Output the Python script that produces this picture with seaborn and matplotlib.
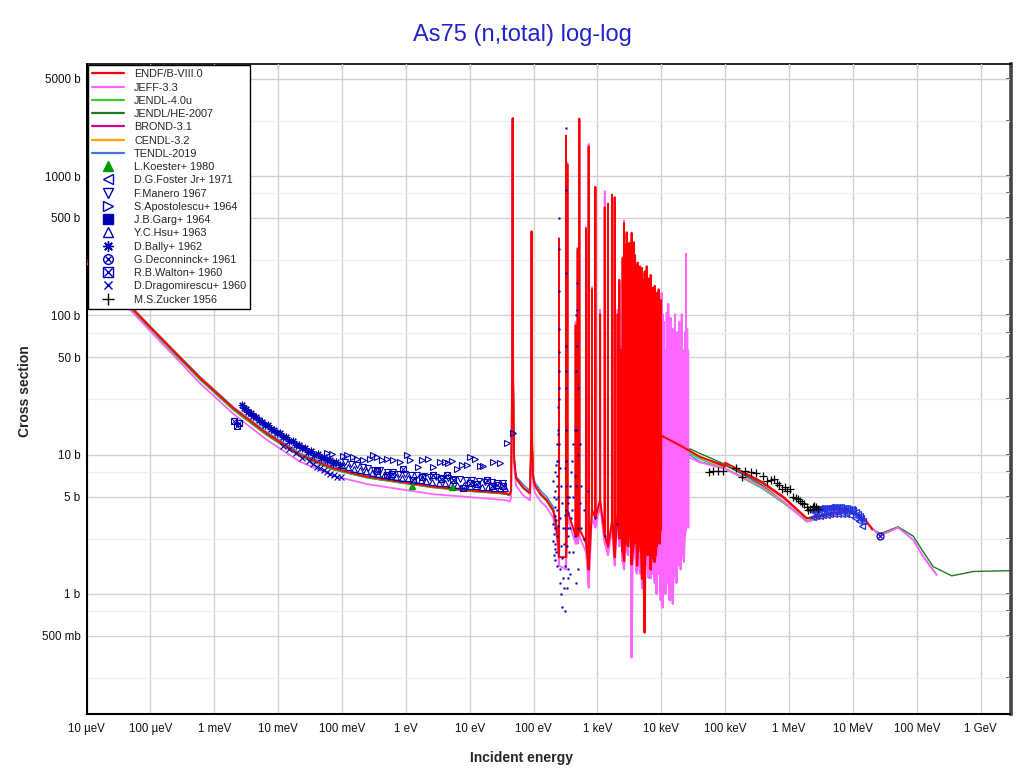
import numpy as np
import pandas as pd
import matplotlib
matplotlib.use("Agg")
import matplotlib.pyplot as plt
import seaborn as sns
from matplotlib.lines import Line2D
from matplotlib.legend_handler import HandlerTuple
from matplotlib.ticker import FixedLocator, FixedFormatter, NullFormatter, NullLocator

sns.set_style("white")
plt.rcParams["font.family"] = ["Liberation Sans", "DejaVu Sans"]
plt.rcParams["path.simplify"] = False

# ---------------- evaluated libraries (E in eV, sigma in barn) ----------------
low_E = [1e-5, 3e-5, 1e-4, 3e-4, 6e-4, 2e-3, 6.6e-3, 0.022, 0.073, 0.244, 0.81, 2.7, 9.0, 30, 38, 42,
         44.5, 46.2, 47.0, 47.8, 49.5, 53, 69, 88, 91.8, 93, 94.3, 98, 105, 130, 160, 204, 230, 245]
endf_low = [250, 146, 82, 49, 35.5, 21.5, 14.2, 9.95, 7.98, 6.95, 6.4, 5.89, 5.57, 5.33, 5.25, 5.15,
            5.5, 40, 2600, 40, 9.5, 6.8, 5.8, 5.3, 14, 400, 14, 7.0, 6.0, 5.2, 4.73, 3.96, 2.94, 2.2]
jeff_low = [238, 138, 77, 45.5, 32.5, 19.6, 12.8, 8.9, 7.05, 6.15, 5.65, 5.2, 4.98, 4.75, 4.7, 4.6,
            4.9, 36, 2500, 36, 8.5, 6.0, 5.1, 4.7, 12, 380, 12, 6.2, 5.3, 4.6, 4.2, 3.5, 2.6, 1.95]
jendl4_low = [246, 143, 80, 48, 34.8, 21.0, 13.9, 9.75, 7.85, 6.85, 6.3, 5.82, 5.5, 5.28, 5.2, 5.1,
              5.45, 40, 2600, 40, 9.4, 6.7, 5.75, 5.25, 14, 400, 14, 7.0, 5.95, 5.15, 4.7, 3.9, 2.9, 2.2]
jendlhe_low = [244, 142, 79.5, 47.6, 34.5, 20.9, 13.8, 9.7, 7.8, 6.82, 6.28, 5.8, 5.48, 5.26, 5.18, 5.08,
               5.43, 40, 2600, 40, 9.3, 6.7, 5.72, 5.22, 14, 400, 14, 6.9, 5.9, 5.1, 4.65, 3.88, 2.88, 2.18]
brond_low = [250, 146, 82, 49, 35.5, 21.5, 14.2, 9.95, 7.98, 6.95, 6.4, 5.89, 5.57, 5.33, 5.25, 5.15,
             5.5, 40, 2600, 40, 9.5, 6.8, 5.8, 5.3, 14, 400, 14, 7.0, 6.0, 5.2, 4.73, 3.96, 2.94, 2.2]
cendl_low = [252, 147, 83, 49.5, 35.8, 21.7, 14.3, 10.0, 8.0, 6.97, 6.42, 5.9, 5.58, 5.34, 5.26, 5.16,
             5.5, 40, 2600, 40, 9.5, 6.8, 5.8, 5.3, 14, 400, 14, 7.0, 6.0, 5.2, 4.75, 3.98, 2.96, 2.2]
tendl_low = [252, 148, 83.5, 50, 36.3, 22.0, 14.6, 10.25, 8.2, 7.12, 6.52, 5.98, 5.64, 5.38, 5.3, 5.2,
             5.55, 40, 2600, 40, 9.6, 7.0, 6.1, 5.5, 14, 400, 14, 7.3, 6.3, 5.5, 5.0, 4.2, 3.1, 2.3]

# resolved resonances (energy, peak, valley)
res_E = [250, 322, 338, 456, 490, 520, 662, 728, 822, 927, 1100, 1300, 1460, 1690, 1860, 2070, 2200,
         2340, 2480, 2610, 2740, 2870, 3010, 3160, 3300, 3430, 3580, 3740, 3880, 4020, 4170, 4320,
         4480, 4640, 4810, 4980, 5200, 5480, 5680, 5900, 6120, 6340, 6570, 6810, 7060, 7320, 7590,
         7870, 8150, 8450, 8760, 9080, 9420, 9770]
endf_peak = [356, 1945, 1213, 85, 303, 2585, 420, 1630, 154, 837, 102, 597, 634, 735, 705, 102, 180,
             56, 260, 458, 320, 395, 250, 331, 290, 391, 210, 335, 270, 232, 190, 239, 200, 225, 170,
             219, 180, 207, 160, 225, 170, 184, 150, 195, 140, 158, 135, 163, 130, 145, 120, 154, 115, 129]
endf_dip = [1.84, 1.84, 3.96, 2.62, 2.62, 2.94, 2.33, 1.5, 4.0, 3.52, 4.73, 2.62, 2.19, 3.32, 1.84,
            3.96, 2.5, 2.94, 2.0, 1.73, 2.8, 2.3, 2.2, 3.96, 2.6, 1.63, 2.0, 2.3, 2.4, 2.94, 1.6, 2.0,
            2.4, 2.94, 2.0, 1.29, 1.8, 0.53, 2.4, 2.2, 1.9, 2.94, 2.3, 1.5, 1.8, 2.6, 2.2, 1.7, 1.9,
            2.2, 2.4, 2.6, 2.3, 2.9]
jeff_peak = [340, 1900, 1250, 90, 290, 2500, 430, 1700, 160, 800, 110, 780, 620, 720, 690, 110, 170,
             60, 250, 480, 300, 380, 240, 320, 280, 380, 200, 320, 260, 240, 180, 230, 190, 215, 160,
             210, 175, 200, 150, 215, 165, 175, 145, 185, 135, 150, 130, 155, 125, 140, 118, 150, 112, 125]
jeff_dip = [1.6, 1.5, 3.5, 2.3, 2.3, 2.6, 2.0, 1.11, 3.5, 3.0, 4.2, 2.3, 1.9, 2.9, 1.6, 3.5, 2.2,
            2.6, 1.7, 1.5, 2.4, 2.0, 1.9, 3.5, 2.2, 0.35, 1.7, 2.0, 2.0, 1.45, 1.4, 1.7, 2.0, 1.4,
            1.7, 1.1, 1.5, 0.6, 2.0, 1.9, 1.6, 1.3, 2.0, 1.3, 1.5, 1.4, 1.9, 1.2, 1.6, 1.0, 1.9, 1.4,
            2.0, 0.9]
jeff_hi_E = [10100, 10500, 11000, 11600, 12100, 12900, 13500, 14000, 14500, 15100, 15800, 16400,
             17200, 17800, 18500, 19100, 20100, 20800, 21600, 22600, 23500, 24300, 25500, 26400]
jeff_hi_peak = [145, 102, 90, 56, 105, 121, 63, 96, 56, 80, 50, 102, 60, 76, 50, 90, 63, 102, 56, 56,
                76, 277, 80, 56]
jeff_hi_dip = [1.4, 0.8, 1.6, 1.0, 1.8, 1.2, 0.9, 1.6, 1.1, 0.85, 1.8, 1.4, 1.2, 1.9, 1.6, 2.1, 1.5,
               2.3, 2.0, 1.7, 2.6, 2.9, 3.2, 3.0]

# fast-neutron region
endf_fast_E = [1.0e4, 2.0e4, 4.04e4, 9.96e4, 1.0e5, 3.72e5, 8.13e5, 1.89e6, 2.72e6, 6.27e6, 8.0e6,
               1.15e7, 1.64e7, 1.97e7, 2.0e7]
endf_fast = [13.7, 11.6, 9.66, 8.2, 8.76, 6.4, 4.99, 3.5, 3.59, 3.89, 3.94, 3.79, 3.3, 2.96, 2.9]
fast_E = [1.0e4, 2.0e4, 4.04e4, 1.0e5, 3.72e5, 8.13e5, 1.89e6, 2.72e6, 6.27e6, 8.0e6, 1.15e7, 1.64e7, 2.0e7]
jendl4_fast = [13.4, 11.2, 9.3, 7.9, 5.75, 4.5, 3.35, 3.48, 3.85, 3.9, 3.76, 3.28, 2.9]
cendl_fast = [13.6, 11.5, 9.6, 8.35, 6.2, 4.85, 3.45, 3.55, 3.88, 3.93, 3.78, 3.29, 2.92]
brond_fast = [13.6, 11.5, 9.6, 8.4, 6.3, 4.9, 3.48, 3.57, 3.88, 3.93, 3.78, 3.3, 2.93]
he_E = [1.0e4, 2.0e4, 4.04e4, 1.0e5, 3.72e5, 8.13e5, 1.89e6, 2.72e6, 6.27e6, 8.0e6, 1.15e7, 1.64e7,
        2.0e7, 2.65e7, 5.1e7, 8.8e7, 1.26e8, 1.81e8, 3.52e8, 7.67e8, 2.9e9]
jendlhe_fast = [13.8, 11.8, 10.2, 8.5, 6.06, 4.6, 3.35, 3.48, 3.85, 3.9, 3.75, 3.25, 2.95, 2.7, 3.04,
                2.6, 2.01, 1.57, 1.35, 1.45, 1.47]
jeff_fast_E = [2.65e4, 4.04e4, 1.0e5, 3.72e5, 8.13e5, 1.89e6, 2.72e6, 6.27e6, 8.0e6, 1.15e7, 1.64e7,
               2.0e7, 2.65e7, 5.1e7, 8.8e7, 1.26e8, 2.04e8]
jeff_fast = [9.6, 8.8, 7.9, 5.9, 4.6, 3.3, 3.42, 3.8, 3.85, 3.7, 3.22, 2.95, 2.62, 3.0, 2.44, 1.85, 1.37]
tendl_fast_E = [1.0e4, 2.0e4, 4.04e4, 1.0e5, 3.72e5, 8.13e5, 1.89e6, 2.72e6, 6.27e6, 8.0e6, 1.15e7,
                1.64e7, 2.0e7, 2.65e7, 5.1e7, 8.8e7, 1.26e8, 2.04e8]
tendl_fast = [13.2, 11.0, 8.9, 7.95, 5.95, 4.62, 3.32, 3.43, 3.8, 3.86, 3.71, 3.23, 2.96, 2.63, 3.0,
              2.45, 1.86, 1.38]

# ---------------- experimental data ----------------
koester_E = [1.26, 5.2]
koester_s = [5.96, 5.83]
walton_E = [2.06e-3, 2.3e-3, 2.45e-3, 0.35, 0.5, 0.6, 0.91, 1.31, 1.8, 2.69, 3.5, 4.36, 5.5, 7.9, 10,
            13, 18.8, 22, 27, 33]
walton_s = [17.4, 16.0, 17.0, 7.6, 7.2, 7.3, 7.85, 6.58, 6.9, 7.15, 6.7, 7.15, 6.58, 5.74, 6.3, 6.2,
            6.58, 5.96, 6.1, 6.0]
apost_E = [0.0575, 0.069, 0.105, 0.118, 0.151, 0.170, 0.216, 0.275, 0.310, 0.349, 0.418, 0.50, 0.637,
           0.81, 1.03, 1.16, 1.57, 1.77, 2.25, 2.69, 3.43, 4.10, 4.62, 5.21, 6.25, 7.48, 8.96, 10.1,
           12.1, 14.5, 16.3, 23.4, 29.8, 37.8, 48.2]
apost_s = [10.2, 10.1, 9.78, 9.89, 9.57, 9.36, 9.16, 9.26, 9.95, 9.57, 9.16, 9.26, 9.16, 8.91, 9.95,
           9.16, 8.11, 9.16, 9.26, 8.11, 8.91, 8.91, 8.67, 9.06, 7.85, 8.43, 8.43, 9.68, 9.26, 8.30,
           8.30, 8.91, 8.75, 12.2, 14.2]
bally_E = [2.7e-3, 2.9e-3, 3.1e-3, 3.4e-3, 3.7e-3, 4.1e-3, 4.5e-3, 5.0e-3, 5.6e-3, 6.2e-3, 6.9e-3,
           7.7e-3, 8.6e-3, 9.6e-3, 0.0107, 0.012, 0.0134, 0.015, 0.0168, 0.0188, 0.021, 0.0235,
           0.0263, 0.0295, 0.033, 0.037, 0.0415, 0.0465, 0.052, 0.058, 0.065, 0.073, 0.082, 0.092]
bally_s = [22.8, 21.5, 21.2, 20.3, 19.8, 19.0, 18.5, 17.6, 17.3, 16.4, 16.2, 15.3, 15.1, 14.3, 14.2,
           13.4, 13.3, 12.6, 12.5, 11.8, 11.8, 11.1, 11.2, 10.5, 10.6, 9.9, 10.1, 9.5, 9.6, 9.1, 9.2,
           8.7, 8.8, 8.4]
hsu_E = [0.1, 0.125, 0.155, 0.19, 0.235, 0.29, 0.36, 0.45, 0.56, 0.7, 0.87, 1.08, 1.35, 1.7, 2.1,
         2.6, 3.3, 4.1, 5.1, 6.4, 8.0, 10, 12.5, 15.6, 19.5, 24, 30, 36]
hsu_s = [8.4, 8.1, 7.9, 7.7, 7.6, 7.4, 7.3, 7.1, 7.0, 6.95, 6.8, 6.75, 6.6, 6.55, 6.45, 6.4, 6.3,
         6.25, 6.2, 6.1, 6.05, 6.0, 5.95, 5.9, 5.85, 5.8, 5.8, 5.75]
manero_E = [0.11, 0.14, 0.17, 0.21, 0.26, 0.32, 0.4, 0.5, 0.62, 0.78, 0.97, 1.2, 1.5, 1.9, 2.35,
            2.95, 3.7, 4.6, 5.7, 7.1, 8.9, 11, 14, 17.5, 22, 27, 33]
manero_s = [8.9, 8.6, 8.4, 8.1, 8.0, 7.8, 7.7, 7.5, 7.5, 7.3, 7.3, 7.15, 7.1, 7.0, 6.95, 6.9, 6.8,
            6.8, 6.7, 6.65, 6.6, 6.55, 6.5, 6.4, 6.4, 6.3, 6.3]
drag_E = [0.012, 0.015, 0.019, 0.024, 0.03, 0.035, 0.04, 0.046, 0.052, 0.058, 0.066, 0.075, 0.083, 0.095]
drag_s = [11.6, 11.0, 10.2, 9.5, 9.0, 8.6, 8.2, 8.0, 7.7, 7.5, 7.3, 7.1, 6.95, 6.9]
garg_points = {204: [6.5, 3.2, 2.4], 210: [5.0, 2.7, 1.9], 215: [4.2, 3.6, 2.1, 1.75],
               220: [7.5, 5.5, 3.0, 2.3], 225: [8.5, 4.8, 3.4, 2.0], 230: [9.0, 6.0, 2.6, 1.6],
               235: [12, 7, 4.0], 240: [15, 9, 3.1], 245: [22, 14, 5], 248: [40, 25],
               250: [500, 300, 150, 80, 55], 253: [30, 12], 258: [8, 3.5, 1.5, 1.2],
               265: [6, 2.2, 1.0], 275: [4.5, 1.8, 0.8], 285: [3.0, 1.3], 295: [2.3, 1.1],
               305: [3.0, 1.6, 0.75], 312: [8, 3.7], 318: [30, 15, 6], 322: [2200, 800, 200, 60],
               326: [40, 9, 4], 332: [5, 2.2, 1.1], 340: [4.5, 3.0, 1.5], 350: [3.8, 2.6, 1.3],
               360: [5, 2.0], 375: [6, 3.0, 1.4], 390: [7.5, 3.5], 400: [9, 4], 420: [12, 5, 2.0],
               440: [15, 7, 2.6], 460: [100, 40, 6, 1.2], 480: [170, 110, 60, 15],
               500: [30, 10, 3, 1.5], 530: [12, 4.5], 560: [6, 3], 620: [4, 2.5], 700: [5.5],
               900: [3.5], 1300: [2.6], 2000: [3.2]}
foster_E = [2.3e6, 2.45e6, 2.6e6, 2.75e6, 2.9e6, 3.1e6, 3.3e6, 3.5e6, 3.75e6, 4.0e6, 4.3e6, 4.6e6,
            4.95e6, 5.3e6, 5.7e6, 6.1e6, 6.6e6, 7.1e6, 7.6e6, 8.2e6, 8.8e6, 9.5e6, 10.2e6, 11.0e6,
            11.8e6, 12.7e6, 13.6e6, 14.6e6,
            2.38e6, 2.68e6, 3.0e6, 3.4e6, 3.9e6, 4.45e6, 5.1e6, 5.9e6, 6.8e6, 7.9e6, 9.1e6, 10.6e6,
            12.3e6, 14.1e6,
            2.5e6, 3.2e6, 4.1e6, 5.5e6, 7.3e6, 9.8e6, 12.0e6]
foster_s = [3.98, 4.02, 4.05, 4.08, 4.1, 4.12, 4.14, 4.15, 4.16, 4.17, 4.18, 4.19, 4.2, 4.2, 4.19,
            4.19, 4.18, 4.17, 4.16, 4.14, 4.1, 4.05, 3.98, 3.88, 3.78, 3.64, 3.5, 3.34,
            3.58, 3.6, 3.64, 3.68, 3.7, 3.72, 3.74, 3.75, 3.75, 3.73, 3.68, 3.52, 3.33, 3.1,
            3.85, 3.92, 3.95, 3.97, 3.95, 3.88, 3.55]
decon_E = [2.68e7]
decon_s = [2.6]
zucker_E = [5.5e4, 6.5e4, 7.8e4, 9.1e4, 1.48e5, 1.81e5, 2.04e5, 2.51e5, 3.03e5, 3.95e5, 4.56e5,
            5.15e5, 5.8e5, 6.4e5, 7.03e5, 7.67e5, 8.64e5, 9.38e5, 1.03e6, 1.16e6, 1.28e6, 1.39e6,
            1.58e6, 1.71e6, 1.89e6, 2.13e6, 2.34e6, 2.64e6, 2.87e6, 1.5e6, 2.0e6, 2.5e6]
zucker_s = [7.5, 7.67, 7.63, 7.63, 8.07, 6.95, 7.67, 7.55, 7.43, 7.07, 6.5, 6.58, 6.66, 6.3, 6.06,
            5.64, 5.83, 5.51, 5.64, 4.99, 4.86, 4.78, 4.52, 4.43, 4.23, 4.1, 4.19, 4.19, 4.05, 4.65,
            4.0, 4.3]

x_ticks = [1e-5, 1e-4, 1e-3, 1e-2, 1e-1, 1, 10, 100, 1e3, 1e4, 1e5, 1e6, 1e7, 1e8, 1e9]
x_labels = ["10 µeV", "100 µeV", "1 meV", "10 meV", "100 meV", "1 eV", "10 eV", "100 eV", "1 keV",
            "10 keV", "100 keV", "1 MeV", "10 MeV", "100 MeV", "1 GeV"]
y_ticks = [0.5, 1, 5, 10, 50, 100, 500, 1000, 5000]
y_labels = ["500 mb", "1 b", "5 b", "10 b", "50 b", "100 b", "500 b", "1000 b", "5000 b"]
y_minor = [0.25, 0.75, 2.5, 7.5, 25, 75, 250, 750, 2500]

lib_names = ["ENDF/B-VIII.0", "JEFF-3.3", "JENDL-4.0u", "JENDL/HE-2007", "BROND-3.1", "CENDL-3.2", "TENDL-2019"]
lib_colors = ["#ff0000", "#ff66ff", "#33cc33", "#1f7a1f", "#cc0099", "#ffa500", "#4477dd"]
BLUE = "#0000b4"


def resonance_path(E, peak, dip):
    xs, ys = [], []
    for e, p, d in zip(E, peak, dip):
        xs += [e * 0.996, e, e * 1.004]
        ys += [d, p, d]
    return xs, ys


# ---------------- figure ----------------
fig = plt.figure(figsize=(10.2, 7.74), dpi=100)
ax = fig.add_axes([86.5 / 1020, 1 - 713.5 / 774, 924 / 1020, 649.2 / 774])
ax.set_xscale("log")
ax.set_yscale("log")


def line(E, s, color, lw, z):
    df = pd.DataFrame({"E": E, "s": s})
    sns.lineplot(data=df, x="E", y="s", ax=ax, color=color, linewidth=lw, sort=False,
                 estimator=None, legend=False, zorder=z)


# background libraries
line(low_E, tendl_low, lib_colors[6], 1.0, 2.1)
line(tendl_fast_E, tendl_fast, lib_colors[6], 1.0, 2.1)
line(low_E, cendl_low, lib_colors[5], 1.0, 2.2)
line(fast_E, cendl_fast, lib_colors[5], 1.0, 2.2)
line(low_E, brond_low, lib_colors[4], 1.0, 2.3)
line(fast_E, brond_fast, lib_colors[4], 1.0, 2.3)
line(low_E, jendlhe_low, lib_colors[3], 1.0, 2.4)
line(he_E, jendlhe_fast, lib_colors[3], 1.0, 2.4)
line(low_E, jendl4_low, lib_colors[2], 1.0, 2.5)
line(fast_E, jendl4_fast, lib_colors[2], 1.0, 2.5)

# JEFF-3.3
jx1, jy1 = resonance_path(res_E, jeff_peak, jeff_dip)
jx2, jy2 = resonance_path(jeff_hi_E, jeff_hi_peak, jeff_hi_dip)
line(low_E + jx1 + jx2 + jeff_fast_E, jeff_low + jy1 + jy2 + jeff_fast, lib_colors[1], 1.3, 2.7)

# ENDF/B-VIII.0
ex, ey = resonance_path(res_E, endf_peak, endf_dip)
line(low_E + ex + endf_fast_E, endf_low + ey + endf_fast, lib_colors[0], 1.4, 2.8)

# experimental data
garg_E = [e for e, vals in garg_points.items() for _ in vals]
garg_s = [v for vals in garg_points.values() for v in vals]
ax.plot(garg_E, garg_s, ls="none", marker="s", ms=1.1, mfc=BLUE, mec=BLUE, mew=0.3, zorder=3)
ax.plot(walton_E, walton_s, ls="none", marker="s", ms=4.5, mfc="none", mec=BLUE, mew=0.8, zorder=3)
ax.plot(walton_E, walton_s, ls="none", marker="x", ms=4.0, mec=BLUE, mew=0.7, zorder=3)
ax.plot(bally_E, bally_s, ls="none", marker=(8, 2, 0), ms=5.5, mec=BLUE, mew=0.8, zorder=3)
ax.plot(drag_E, drag_s, ls="none", marker="x", ms=4.0, mec=BLUE, mew=0.8, zorder=3)
ax.plot(hsu_E, hsu_s, ls="none", marker="^", ms=4.5, mfc="none", mec=BLUE, mew=0.8, zorder=3)
ax.plot(manero_E, manero_s, ls="none", marker="v", ms=4.5, mfc="none", mec=BLUE, mew=0.8, zorder=3)
ax.plot(apost_E, apost_s, ls="none", marker=">", ms=4.5, mfc="none", mec=BLUE, mew=0.8, zorder=3)
ax.plot(koester_E, koester_s, ls="none", marker="^", ms=5, mfc="#009900", mec="#009900", zorder=3.5)
ax.plot(foster_E, foster_s, ls="none", marker="<", ms=4.5, mfc="none", mec="#2233e0", mew=0.9, zorder=3)
ax.plot(decon_E, decon_s, ls="none", marker="o", ms=5, mfc="none", mec=BLUE, mew=0.9, zorder=3)
ax.plot(decon_E, decon_s, ls="none", marker="x", ms=3.5, mec=BLUE, mew=0.8, zorder=3)
ax.plot(zucker_E, zucker_s, ls="none", marker="+", ms=6, mec="black", mew=0.9, zorder=3)

# axes styling
ax.set_xlim(1e-5, 2.93e9)
ax.set_ylim(0.1387, 6340)
ax.set_xlabel("")
ax.set_ylabel("")
ax.xaxis.set_major_locator(FixedLocator(x_ticks))
ax.xaxis.set_major_formatter(FixedFormatter(x_labels))
ax.xaxis.set_minor_locator(NullLocator())
ax.yaxis.set_major_locator(FixedLocator(y_ticks))
ax.yaxis.set_major_formatter(FixedFormatter(y_labels))
ax.yaxis.set_minor_locator(FixedLocator(y_minor))
ax.yaxis.set_minor_formatter(NullFormatter())

ax.set_axisbelow(True)
ax.grid(True, which="major", axis="both", color="#d2d2d2", lw=1.0)
ax.grid(True, which="minor", axis="y", color="#eeeeee", lw=1.0)

ax.tick_params(axis="x", which="major", direction="inout", length=5.5, width=1.0, colors="#111111",
               labelsize=8.3, pad=4)
ax.tick_params(axis="y", which="major", direction="inout", length=7, width=1.0, colors="#111111",
               labelsize=8.4, pad=1)
ax.tick_params(axis="y", which="minor", direction="in", length=3.5, width=1.0, colors="#111111")

for side in ["left", "bottom"]:
    ax.spines[side].set_color("black")
    ax.spines[side].set_linewidth(1.5)
ax.spines["top"].set_visible(False)
ax.spines["right"].set_visible(False)

sec_r = ax.secondary_yaxis("right")
sec_r.yaxis.set_major_locator(FixedLocator(y_ticks))
sec_r.yaxis.set_minor_locator(FixedLocator(y_minor))
sec_r.yaxis.set_major_formatter(NullFormatter())
sec_r.yaxis.set_minor_formatter(NullFormatter())
sec_r.tick_params(which="both", direction="in", length=3.5, width=1.2, colors="#333333")
sec_r.spines["right"].set_color("#444444")
sec_r.spines["right"].set_linewidth(2.6)

sec_t = ax.secondary_xaxis("top")
sec_t.xaxis.set_major_locator(FixedLocator(x_ticks))
sec_t.xaxis.set_minor_locator(NullLocator())
sec_t.xaxis.set_major_formatter(NullFormatter())
sec_t.tick_params(which="major", direction="in", length=3.5, width=1.0, colors="#888888")
sec_t.spines["top"].set_color("black")
sec_t.spines["top"].set_linewidth(1.2)

# legend
handles = [Line2D([], [], color=c, lw=1.6) for c in lib_colors]
handles += [
    Line2D([], [], ls="none", marker="^", ms=7, mfc="#009900", mec="#009900"),
    Line2D([], [], ls="none", marker="<", ms=6.5, mfc="none", mec=BLUE, mew=1.0),
    Line2D([], [], ls="none", marker="v", ms=6.5, mfc="none", mec=BLUE, mew=1.0),
    Line2D([], [], ls="none", marker=">", ms=6.5, mfc="none", mec=BLUE, mew=1.0),
    Line2D([], [], ls="none", marker="s", ms=7, mfc=BLUE, mec=BLUE),
    Line2D([], [], ls="none", marker="^", ms=6.5, mfc="none", mec=BLUE, mew=1.0),
    Line2D([], [], ls="none", marker=(8, 2, 0), ms=7.5, mec=BLUE, mew=1.0),
    (Line2D([], [], ls="none", marker="o", ms=7, mfc="none", mec=BLUE, mew=1.0),
     Line2D([], [], ls="none", marker="x", ms=4.8, mec=BLUE, mew=1.0)),
    (Line2D([], [], ls="none", marker="s", ms=7, mfc="none", mec=BLUE, mew=1.0),
     Line2D([], [], ls="none", marker="x", ms=6, mec=BLUE, mew=1.0)),
    Line2D([], [], ls="none", marker="x", ms=6, mec=BLUE, mew=1.0),
    Line2D([], [], ls="none", marker="+", ms=8.5, mec="black", mew=1.0),
]
labels = lib_names + ["L.Koester+ 1980", "D.G.Foster Jr+ 1971", "F.Manero 1967", "S.Apostolescu+ 1964",
                      "J.B.Garg+ 1964", "Y.C.Hsu+ 1963", "D.Bally+ 1962", "G.Deconninck+ 1961",
                      "R.B.Walton+ 1960", "D.Dragomirescu+ 1960", "M.S.Zucker 1956"]
leg = ax.legend(handles, labels, loc="upper left", bbox_to_anchor=(0.0016, 0.999), borderaxespad=0,
                fontsize=7.8, frameon=True, fancybox=False, framealpha=1, edgecolor="black",
                handlelength=2.9, handletextpad=0.95, labelspacing=0.3, borderpad=0.4,
                handler_map={tuple: HandlerTuple(ndivide=1)})
leg.get_frame().set_linewidth(1.0)
leg.set_zorder(10)

fig.text(522 / 1020, 1 - 35 / 774, "As75 (n,total) log-log", ha="center", va="center",
         fontsize=17, color="#2323cc")
fig.text(522 / 1020, 1 - 758 / 774, "Incident energy", ha="center", va="center",
         fontsize=10, fontweight="bold")
fig.text(25 / 1020, 1 - 391 / 774, "Cross section", ha="center", va="center", rotation=90,
         fontsize=10, fontweight="bold")

fig.savefig("out.png", dpi=100)
